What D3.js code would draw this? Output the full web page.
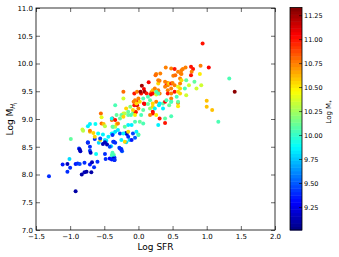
<!DOCTYPE html>
<html>
<head>
<meta charset="utf-8">
<script src="https://cdn.jsdelivr.net/npm/d3@7"></script>
<style>
  body { margin: 0; background: #fff; }
  text { font-family: "DejaVu Sans", sans-serif; }
</style>
</head>
<body>
<svg id="chart"></svg>
<script>
// Set up the chart dimensions
const width = 339;
const height = 257;
const plot = { left: 36, top: 8, right: 275, bottom: 230 };

// Data: log SFR, log M_HI, log M_star
const logSFR = [
  -1.31, -0.92, -1.11, -1.04, -1.00, -1.01, -0.92, -0.89, -0.86, -0.87, -0.85, -0.99,
  -0.83, -0.79, -0.76, -0.69, -0.79, -0.71, -0.68, -0.65, -0.60, -0.74, -0.71, -0.70,
  -0.62, -0.64, -0.58, -0.49, -0.48, -0.42, -0.35, -0.36, -0.48, -0.46, -0.47, -0.40,
  -0.36, -0.28, -0.25, -0.24, -0.18, -0.13, -0.17, -0.18, -0.05, 0.00, -0.71, -0.56,
  -0.82, -0.81, -0.71, -0.66, -0.59, -0.64, -0.56, -0.52, -0.49, -0.44, -0.39, -0.63,
  -0.71, -0.74, -0.55, -0.54, -0.54, -0.51, -0.49, -0.38, -0.39, -0.37, -0.74, -0.71,
  -0.86, -0.52, -0.49, -0.42, -0.38, -0.35, -0.38, -1.04,
  -0.18, -0.07, -0.03, -0.06, -0.02, -0.12, -0.22, -0.20, -0.15, -0.32, -0.25, -0.39,
  -0.34, -0.27, -0.22, -0.15, -0.11, -0.08, -0.04, -0.04, -0.05, 0.07, 0.04, 0.09,
  0.14, 0.17, 0.21, 0.26, 0.30, 0.36, 0.39, 0.48, 0.58, 0.58, 0.36, 0.21,
  0.21, 0.17, 0.26, 0.31, 0.39, 0.39, 0.48, 0.29, 0.07, 0.02, -0.05, -0.15,
  -0.10, -0.20, -0.34, -0.32, -0.30, -0.38, -0.30, -0.34, -0.37, -0.38, -0.27, -0.22,
  -0.15, -0.08, -0.03, 0.00, -0.15, -0.10, -0.20, -0.25, -0.37, -0.34, -0.27, -0.25,
  -0.39, -0.37, -0.39, -0.35, -0.34, -0.22,
  -0.22, -0.06, -0.02, 0.05, 0.08, 0.09, 0.12, 0.04, 0.03, 0.15, 0.08, 0.02,
  0.00, -0.05, -0.03, -0.08, 0.00, 0.19, 0.21, 0.24, 0.21, 0.18, 0.29, 0.29,
  0.31, 0.29, 0.26, 0.25, 0.32, 0.40, 0.48, 0.51, 0.53, 0.54, 0.58, 0.63,
  0.63, 0.39, 0.41, 0.43, 0.43, 0.45, 0.48, 0.50, 0.53, 0.58, 0.61, 0.39,
  0.48, 0.43, 0.31, 0.26, 0.29, 0.26, 0.43, 0.48, 0.53, 0.58, 0.61, 0.48,
  0.56, 0.58, 0.48, 0.07, 0.14, 0.17, 0.21, 0.31, 0.41, 0.45, 0.24,
  0.94, 1.03, 0.91, 1.33, 1.41, 1.00, 1.00, 1.08, 1.17, 0.77, 0.80, 0.69,
  0.65, 0.62, 0.78, 0.77, 0.90, 0.61, 0.63, 0.70, 0.82, 0.74, 0.92, 0.85,
  0.68, 0.70, 0.61
];
const logMHI = [
  7.97, 7.70, 8.18, 8.05, 8.12, 8.28, 8.19, 8.20, 8.19, 8.47, 8.42, 8.64,
  8.00, 8.04, 8.05, 8.04, 8.21, 8.18, 8.22, 8.13, 8.23, 8.57, 8.43, 8.39,
  8.37, 8.64, 8.57, 8.37, 8.28, 8.29, 8.26, 8.35, 8.59, 8.54, 8.61, 8.51,
  8.59, 8.48, 8.46, 8.42, 8.58, 8.62, 8.73, 8.75, 8.66, 8.72, 8.77, 8.62,
  8.81, 8.79, 8.79, 8.75, 8.74, 8.68, 8.65, 8.72, 8.62, 8.68, 8.74, 8.91,
  8.91, 8.87, 9.10, 9.03, 8.92, 8.91, 8.87, 9.01, 8.98, 8.86, 8.58, 8.50,
  8.45, 8.55, 8.58, 8.50, 8.39, 8.30, 8.33, 8.19,
  9.19, 9.31, 9.31, 9.25, 9.25, 9.22, 9.10, 9.10, 9.13, 9.07, 9.07, 9.01,
  8.98, 9.01, 9.04, 9.07, 9.07, 9.11, 9.13, 9.12, 9.07, 9.16, 9.07, 9.27,
  9.27, 9.19, 9.22, 9.31, 9.25, 9.28, 9.31, 9.31, 9.29, 9.23, 9.19, 9.13,
  9.10, 9.07, 9.07, 9.01, 8.93, 9.01, 9.05, 8.89, 8.92, 8.95, 8.95, 8.89,
  8.89, 8.86, 8.86, 8.91, 8.92, 8.86, 8.80, 8.77, 8.74, 8.71, 8.74, 8.74,
  8.77, 8.74, 8.77, 8.71, 8.68, 8.62, 8.59, 8.62, 8.59, 8.57, 8.47, 8.44,
  8.35, 8.29, 8.27, 8.26, 9.25, 9.37,
  9.49, 9.46, 9.49, 9.60, 9.54, 9.49, 9.46, 9.46, 9.49, 9.66, 9.28, 9.31,
  9.37, 9.34, 9.28, 9.16, 9.19, 9.48, 9.52, 9.55, 9.46, 9.44, 9.52, 9.64,
  9.69, 9.70, 9.81, 9.79, 9.82, 9.93, 9.91, 9.78, 9.90, 9.79, 9.85, 9.88,
  9.81, 9.67, 9.61, 9.61, 9.65, 9.64, 9.64, 9.65, 9.61, 9.58, 9.64, 9.58,
  9.55, 9.52, 9.46, 9.44, 9.46, 9.49, 9.46, 9.46, 9.49, 9.49, 9.46, 9.37,
  9.40, 9.31, 9.31, 9.37, 9.40, 9.34, 9.28, 9.28, 9.34, 9.25, 9.19,
  10.36, 9.93, 9.96, 9.73, 9.49, 9.33, 9.22, 9.16, 8.95, 9.94, 9.90, 9.93,
  9.90, 9.82, 9.85, 9.79, 9.81, 9.73, 9.70, 9.70, 9.67, 9.61, 9.61, 9.55,
  9.55, 9.43, 9.55
];
const logMstar = [
  9.40, 9.10, 9.35, 9.40, 9.40, 9.80, 9.35, 9.40, 9.45, 9.40, 9.15, 10.10,
  9.10, 9.15, 9.10, 9.10, 9.40, 9.35, 9.15, 9.40, 9.40, 9.15, 9.45, 9.15,
  9.90, 9.40, 9.80, 9.40, 9.40, 9.30, 9.15, 10.10, 9.45, 9.15, 9.80, 9.80,
  9.15, 9.45, 9.45, 9.50, 9.80, 9.80, 9.30, 9.15, 9.50, 10.10, 10.55, 10.55,
  10.35, 10.30, 10.75, 10.55, 9.90, 10.55, 9.45, 9.85, 9.85, 9.85, 9.85, 9.90,
  9.85, 9.85, 10.80, 10.40, 10.80, 10.60, 10.30, 11.00, 10.80, 10.00, 9.40, 9.40,
  9.15, 9.15, 9.15, 9.45, 10.05, 9.40, 9.85, 9.15,
  10.55, 10.75, 11.00, 11.00, 11.10, 10.20, 10.40, 10.30, 10.10, 10.10, 10.10, 9.90,
  11.00, 10.10, 10.55, 10.10, 10.05, 10.10, 10.75, 11.00, 10.50, 10.10, 10.05, 11.05,
  10.10, 10.20, 10.55, 10.75, 9.85, 10.10, 11.05, 10.05, 10.75, 10.50, 9.85, 11.05,
  11.00, 10.75, 10.50, 11.00, 11.00, 10.10, 10.05, 9.85, 10.05, 10.10, 10.05, 9.85,
  9.85, 10.10, 10.30, 10.55, 10.75, 10.10, 9.85, 9.80, 9.85, 9.40, 9.45, 9.85,
  10.55, 9.45, 9.85, 10.05, 9.40, 9.35, 10.55, 9.85, 9.40, 9.40, 9.40, 9.40,
  10.05, 9.15, 9.35, 9.40, 10.05, 10.35,
  10.80, 11.00, 10.75, 11.25, 11.05, 11.25, 11.00, 11.00, 11.25, 11.05, 11.05, 10.55,
  10.75, 10.75, 10.55, 10.55, 10.75, 10.75, 10.60, 10.75, 11.00, 11.05, 10.75, 10.55,
  10.75, 10.75, 10.75, 10.80, 10.75, 10.75, 10.75, 10.75, 11.00, 10.80, 10.75, 10.75,
  10.75, 10.75, 11.00, 10.75, 10.75, 10.55, 11.00, 10.75, 10.75, 10.40, 10.75, 10.75,
  10.75, 10.75, 10.75, 10.35, 10.05, 10.05, 11.00, 10.75, 11.00, 10.55, 10.55, 10.75,
  10.05, 10.10, 10.05, 10.05, 10.05, 10.10, 10.55, 9.85, 10.05, 10.10, 9.85,
  11.00, 11.05, 10.75, 10.05, 11.30, 10.60, 10.60, 10.60, 10.05, 11.00, 11.00, 10.75,
  10.75, 10.75, 10.75, 11.00, 10.50, 10.75, 10.55, 10.10, 10.10, 10.35, 10.35, 10.35,
  10.05, 10.35, 10.55
];

const xTicks = [-1.5, -1.0, -0.5, 0.0, 0.5, 1.0, 1.5, 2.0];
const yTicks = [7.0, 7.5, 8.0, 8.5, 9.0, 9.5, 10.0, 10.5, 11.0];
const cTicks = [9.25, 9.5, 9.75, 10.0, 10.25, 10.5, 10.75, 11.0, 11.25];
const cDomain = [9.01, 11.33];

const points = logSFR.map((d, i) => ({ sfr: d, mhi: logMHI[i], mstar: logMstar[i] }));

// jet colormap
function jet(t) {
  const c = (v) => Math.round(255 * Math.max(0, Math.min(1, v)));
  return `rgb(${c(1.5 - Math.abs(4 * t - 3))},${c(1.5 - Math.abs(4 * t - 2))},${c(1.5 - Math.abs(4 * t - 1))})`;
}

const x = d3.scaleLinear().domain([-1.5, 2.0]).range([plot.left, plot.right]);
const y = d3.scaleLinear().domain([7.0, 11.0]).range([plot.bottom, plot.top]);
const cNorm = d3.scaleLinear().domain(cDomain).range([0, 1]).clamp(true);

const svg = d3.select("#chart").attr("width", width).attr("height", height);

// Points
svg.append("g")
  .selectAll("circle")
  .data(points)
  .enter()
  .append("circle")
  .attr("cx", (d) => x(d.sfr))
  .attr("cy", (d) => y(d.mhi))
  .attr("r", 2.0)
  .attr("fill", (d) => jet(cNorm(d.mstar)));

// Axes with inward ticks
const fmt1 = d3.format(".1f");
const axisStyle = (g) => {
  g.selectAll("text").style("font-size", "7px").attr("fill", "#000");
  g.select(".domain").remove();
  g.selectAll("line").attr("stroke", "#000").attr("stroke-width", 0.6);
};

svg.append("g")
  .attr("transform", `translate(0,${plot.bottom})`)
  .call(d3.axisBottom(x).tickValues(xTicks).tickFormat(fmt1).tickSizeInner(-4).tickPadding(4))
  .call(axisStyle);
svg.append("g")
  .attr("transform", `translate(0,${plot.top})`)
  .call(d3.axisTop(x).tickValues(xTicks).tickFormat("").tickSizeInner(-4))
  .call(axisStyle);
svg.append("g")
  .attr("transform", `translate(${plot.left},0)`)
  .call(d3.axisLeft(y).tickValues(yTicks).tickFormat(fmt1).tickSizeInner(-4).tickPadding(3))
  .call(axisStyle);
svg.append("g")
  .attr("transform", `translate(${plot.right},0)`)
  .call(d3.axisRight(y).tickValues(yTicks).tickFormat("").tickSizeInner(-4))
  .call(axisStyle);

svg.append("rect")
  .attr("x", plot.left).attr("y", plot.top)
  .attr("width", plot.right - plot.left).attr("height", plot.bottom - plot.top)
  .attr("fill", "none").attr("stroke", "#000").attr("stroke-width", 0.8);

// Axis labels
svg.append("text")
  .attr("x", (plot.left + plot.right) / 2).attr("y", 250)
  .attr("text-anchor", "middle").style("font-size", "9px")
  .text("Log SFR");

const yl = svg.append("text")
  .attr("transform", `translate(13,${(plot.top + plot.bottom) / 2}) rotate(-90)`)
  .attr("text-anchor", "middle").style("font-size", "9px");
yl.append("tspan").text("Log M");
yl.append("tspan").attr("dy", 2).style("font-size", "6.5px").style("font-style", "italic").text("H");
yl.append("tspan").attr("dy", 1.5).style("font-size", "4.5px").text("I");

// Colorbar
const cb = { x: 290, w: 12, top: 7.5, bottom: 230 };
const cy = d3.scaleLinear().domain(cDomain).range([cb.bottom, cb.top]);
const nBands = 64;
const bands = d3.range(nBands);
svg.append("g")
  .selectAll("rect")
  .data(bands)
  .enter()
  .append("rect")
  .attr("x", cb.x)
  .attr("width", cb.w)
  .attr("y", (i) => cb.top + (cb.bottom - cb.top) * (nBands - 1 - i) / nBands)
  .attr("height", (cb.bottom - cb.top) / nBands + 0.5)
  .attr("fill", (i) => jet((i + 0.5) / nBands));

svg.append("g")
  .attr("transform", `translate(${cb.x + cb.w},0)`)
  .call(d3.axisRight(cy).tickValues(cTicks).tickFormat(d3.format(".2f")).tickSizeInner(-3).tickPadding(2))
  .call((g) => {
    g.selectAll("text").style("font-size", "6.5px").attr("fill", "#000");
    g.select(".domain").remove();
    g.selectAll("line").attr("stroke", "#000").attr("stroke-width", 0.6);
  });

svg.append("rect")
  .attr("x", cb.x).attr("y", cb.top)
  .attr("width", cb.w).attr("height", cb.bottom - cb.top)
  .attr("fill", "none").attr("stroke", "#000").attr("stroke-width", 0.8);

const cl = svg.append("text")
  .attr("transform", `translate(331,112) rotate(-90)`)
  .attr("text-anchor", "middle").style("font-size", "7px");
cl.append("tspan").text("Log M");
cl.append("tspan").attr("dy", 1.5).style("font-size", "5px").text("*");
</script>
</body>
</html>
